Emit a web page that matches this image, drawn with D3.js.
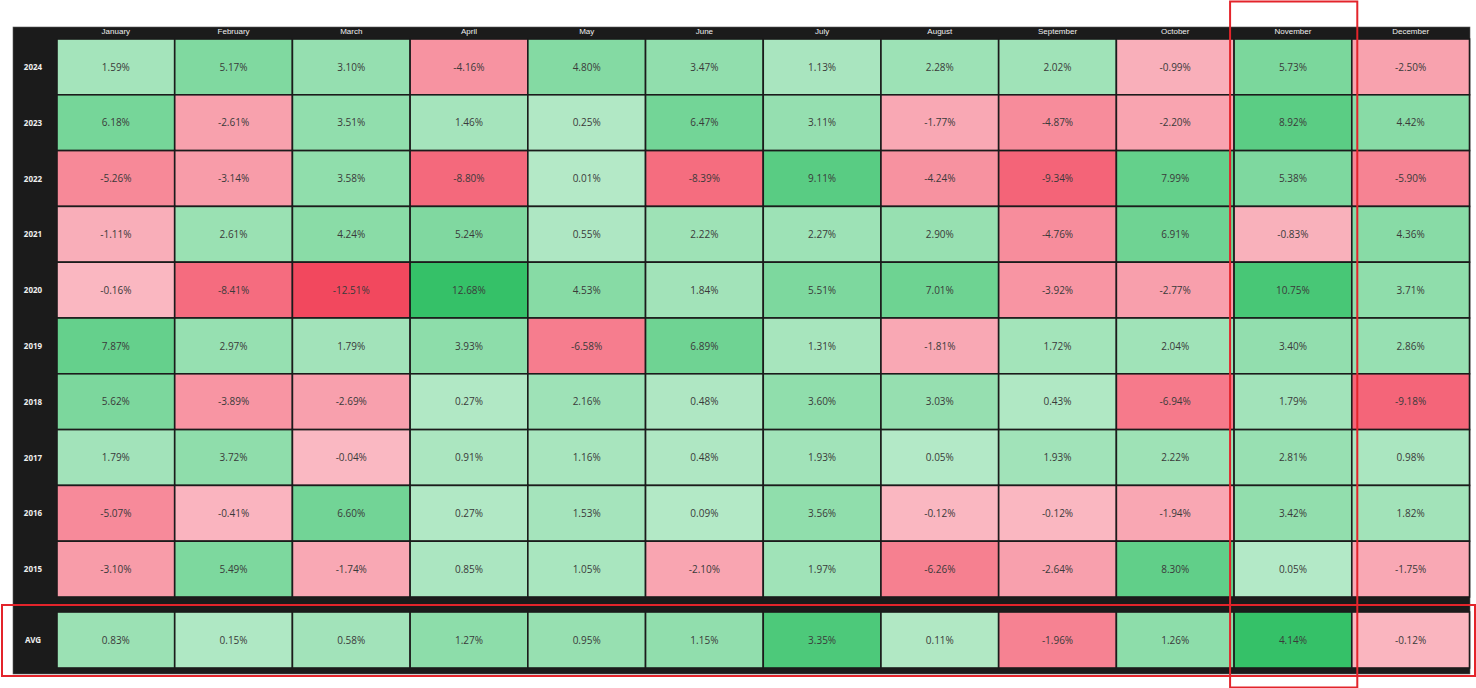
<!DOCTYPE html>
<html>
<head>
<meta charset="utf-8">
<script src="https://cdn.jsdelivr.net/npm/d3@7"></script>
<style>
  html, body { margin: 0; padding: 0; background: #ffffff; }
  svg { display: block; }
</style>
</head>
<body>
<svg id="chart" width="1476" height="688"></svg>
<script>
const months = ["January","February","March","April","May","June","July","August","September","October","November","December"];
const years = ["2024","2023","2022","2021","2020","2019","2018","2017","2016","2015"];
const r2024 = [1.59, 5.17, 3.10, -4.16, 4.80, 3.47, 1.13, 2.28, 2.02, -0.99, 5.73, -2.50];
const r2023 = [6.18, -2.61, 3.51, 1.46, 0.25, 6.47, 3.11, -1.77, -4.87, -2.20, 8.92, 4.42];
const r2022 = [-5.26, -3.14, 3.58, -8.80, 0.01, -8.39, 9.11, -4.24, -9.34, 7.99, 5.38, -5.90];
const r2021 = [-1.11, 2.61, 4.24, 5.24, 0.55, 2.22, 2.27, 2.90, -4.76, 6.91, -0.83, 4.36];
const r2020 = [-0.16, -8.41, -12.51, 12.68, 4.53, 1.84, 5.51, 7.01, -3.92, -2.77, 10.75, 3.71];
const r2019 = [7.87, 2.97, 1.79, 3.93, -6.58, 6.89, 1.31, -1.81, 1.72, 2.04, 3.40, 2.86];
const r2018 = [5.62, -3.89, -2.69, 0.27, 2.16, 0.48, 3.60, 3.03, 0.43, -6.94, 1.79, -9.18];
const r2017 = [1.79, 3.72, -0.04, 0.91, 1.16, 0.48, 1.93, 0.05, 1.93, 2.22, 2.81, 0.98];
const r2016 = [-5.07, -0.41, 6.60, 0.27, 1.53, 0.09, 3.56, -0.12, -0.12, -1.94, 3.42, 1.82];
const r2015 = [-3.10, 5.49, -1.74, 0.85, 1.05, -2.10, 1.97, -6.26, -2.64, 8.30, 0.05, -1.75];
const avgRow = [0.83, 0.15, 0.58, 1.27, 0.95, 1.15, 3.35, 0.11, -1.96, 1.26, 4.14, -0.12];
const avgLabel = "AVG";
const highlightMonth = "November";

const rows = [r2024, r2023, r2022, r2021, r2020, r2019, r2018, r2017, r2016, r2015];

const svg = d3.select("#chart");
const panel = { x0: 13, y0: 27, x1: 1470, y1: 674 };
const gridX0 = 57, gridX1 = 1469.5;
const headerBottom = 39, gridBottom = 597;
const avgTop = 612, avgBottom = 668;

const x = d3.scaleBand().domain(months).range([gridX0, gridX1]).paddingInner(0);
const y = d3.scaleBand().domain(years).range([headerBottom, gridBottom]).paddingInner(0);

function makeColor(maxAbs) {
  const g = d3.scaleLinear().domain([0, maxAbs]).range(["#b4e9c7", "#35c168"]).interpolate(d3.interpolateRgb).clamp(true);
  const r = d3.scaleLinear().domain([0, -maxAbs]).range(["#fab8c2", "#f2465d"]).interpolate(d3.interpolateRgb).clamp(true);
  return v => v >= 0 ? g(v) : r(v);
}
const allVals = rows.flat();
const mainColor = makeColor(d3.max(allVals, v => Math.abs(v)));
const avgColor = makeColor(d3.max(avgRow, v => Math.abs(v)));

// panel background
svg.append("rect")
  .attr("x", panel.x0).attr("y", panel.y0)
  .attr("width", panel.x1 - panel.x0).attr("height", panel.y1 - panel.y0)
  .attr("fill", "#1b1b1b").attr("stroke", "#5a5a5a").attr("stroke-width", 0.6);

// headers
svg.append("g").selectAll("text").data(months).join("text")
  .attr("x", d => x(d) + x.bandwidth() / 2)
  .attr("y", (panel.y0 + headerBottom) / 2 - 1)
  .attr("text-anchor", "middle").attr("dominant-baseline", "middle")
  .attr("font-family", "'Liberation Sans', Arial, sans-serif")
  .attr("font-size", 8).attr("font-weight", 400).attr("fill", "#eeeeee")
  .text(d => d);

// row labels
const labelX = 33;
svg.append("g").selectAll("text").data(years).join("text")
  .attr("x", labelX).attr("y", d => y(d) + y.bandwidth() / 2 + 1)
  .attr("text-anchor", "middle").attr("dominant-baseline", "middle")
  .attr("font-family", "'Noto Sans', 'DejaVu Sans', sans-serif")
  .attr("font-size", 8).attr("font-weight", 700).attr("fill", "#eeeeee")
  .text(d => d);

svg.append("text")
  .attr("x", labelX).attr("y", (avgTop + avgBottom) / 2 + 1)
  .attr("text-anchor", "middle").attr("dominant-baseline", "middle")
  .attr("font-family", "'Noto Sans', 'DejaVu Sans', sans-serif")
  .attr("font-size", 8).attr("font-weight", 700).attr("fill", "#eeeeee")
  .text(avgLabel);

// cells
const cellData = [];
rows.forEach((row, i) => row.forEach((v, j) => cellData.push({ year: years[i], month: months[j], v })));

const cells = svg.append("g").selectAll("g").data(cellData).join("g");
cells.append("rect")
  .attr("x", d => x(d.month)).attr("y", d => y(d.year))
  .attr("width", x.bandwidth()).attr("height", y.bandwidth())
  .attr("fill", d => mainColor(d.v))
  .attr("stroke", "#1b1b1b").attr("stroke-width", 1.6);
cells.append("text")
  .attr("x", d => x(d.month) + x.bandwidth() / 2)
  .attr("y", d => y(d.year) + y.bandwidth() / 2 + 1)
  .attr("text-anchor", "middle").attr("dominant-baseline", "middle")
  .attr("font-family", "'Open Sans', 'Noto Sans', sans-serif")
  .attr("font-size", 10).attr("fill", "#3a3a3a")
  .text(d => d.v.toFixed(2) + "%");

const avgCells = svg.append("g").selectAll("g").data(avgRow.map((v, j) => ({ month: months[j], v }))).join("g");
avgCells.append("rect")
  .attr("x", d => x(d.month)).attr("y", avgTop)
  .attr("width", x.bandwidth()).attr("height", avgBottom - avgTop)
  .attr("fill", d => avgColor(d.v))
  .attr("stroke", "#1b1b1b").attr("stroke-width", 1.6);
avgCells.append("text")
  .attr("x", d => x(d.month) + x.bandwidth() / 2)
  .attr("y", (avgTop + avgBottom) / 2 + 1)
  .attr("text-anchor", "middle").attr("dominant-baseline", "middle")
  .attr("font-family", "'Open Sans', 'Noto Sans', sans-serif")
  .attr("font-size", 10).attr("fill", "#3a3a3a")
  .text(d => d.v.toFixed(2) + "%");

// red highlight annotations
svg.append("rect")
  .attr("x", x(highlightMonth) - 4).attr("y", 1.5)
  .attr("width", x.bandwidth() + 9.5).attr("height", 686)
  .attr("fill", "none").attr("stroke", "#e3242b").attr("stroke-width", 2);
svg.append("rect")
  .attr("x", 2).attr("y", avgTop - 7)
  .attr("width", 1473).attr("height", (avgBottom - avgTop) + 15)
  .attr("fill", "none").attr("stroke", "#e3242b").attr("stroke-width", 2);
</script>
</body>
</html>
